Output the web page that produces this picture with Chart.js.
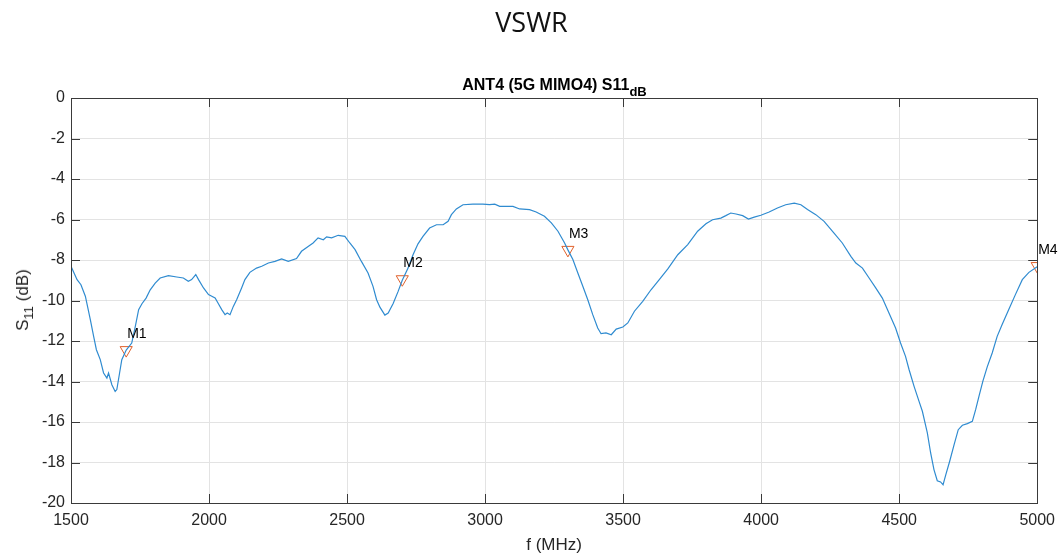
<!DOCTYPE html>
<html>
<head>
<meta charset="utf-8">
<script src="https://cdn.jsdelivr.net/npm/chart.js@4/dist/chart.umd.min.js"></script>
<style>
  html, body { margin: 0; padding: 0; background: #fff; }
  #wrap { position: relative; width: 1063px; height: 556px; font-family: "Liberation Sans", Arial, sans-serif; }
  canvas { position: absolute; left: 0; top: 0; }
  .ov { position: absolute; white-space: nowrap; color: #000; }
  #t1 { left: 0; width: 1063px; text-align: center; top: 3px; font-size: 27px; font-family: "Open Sans", sans-serif; color: #111; }
  #t2 { left: 71px; width: 967px; text-align: center; top: 76px; font-size: 16px; font-weight: bold; }
  #t2 sub { font-size: 13px; vertical-align: -6px; line-height: 0; }
  #yl { left: 23px; top: 300px; font-size: 17px; color: #262626; transform: translate(-50%, -50%) rotate(-90deg); transform-origin: center; }
  #yl sub { font-size: 13px; vertical-align: -5px; line-height: 0; }
</style>
</head>
<body>
<div id="wrap">
  <canvas id="c" width="1063" height="556"></canvas>
  <div class="ov" id="t1">VSWR</div>
  <div class="ov" id="t2">ANT4 (5G MIMO4) S11<sub>dB</sub></div>
  <div class="ov" id="yl">S<sub>11</sub> (dB)</div>
</div>
<script>
const freq = [1500,1522,1536,1552,1570,1582,1592,1606,1618,1630,1636,1648,1660,1666,1676,1684,1700,1720,1733,1745,1757,1772,1787,1805,1823,1853,1883,1907,1925,1937,1952,1962,1980,1998,2010,2022,2034,2046,2058,2066,2076,2088,2100,2118,2130,2148,2172,2191,2215,2239,2263,2287,2317,2335,2359,2377,2395,2414,2426,2444,2468,2492,2510,2529,2552,2576,2594,2607,2619,2637,2649,2667,2685,2700,2721,2739,2757,2775,2799,2824,2848,2866,2878,2896,2920,2956,2992,3016,3035,3053,3101,3125,3161,3185,3215,3240,3264,3288,3300,3318,3336,3354,3372,3390,3408,3420,3438,3457,3475,3499,3517,3541,3571,3601,3631,3662,3698,3734,3770,3800,3824,3854,3872,3890,3909,3933,3954,3975,3999,4029,4059,4089,4120,4144,4168,4198,4228,4264,4294,4325,4343,4367,4391,4415,4439,4463,4487,4505,4523,4536,4554,4572,4584,4602,4614,4626,4638,4650,4659,4669,4683,4699,4714,4729,4747,4765,4777,4789,4803,4819,4837,4855,4873,4897,4921,4946,4970,5000];
const s11 = [-8.31,-8.97,-9.22,-9.79,-10.95,-11.77,-12.43,-12.92,-13.58,-13.83,-13.58,-14.16,-14.49,-14.40,-13.58,-12.92,-12.45,-12.10,-11.28,-10.45,-10.16,-9.88,-9.47,-9.14,-8.89,-8.77,-8.84,-8.89,-9.05,-8.97,-8.72,-8.97,-9.38,-9.71,-9.79,-9.88,-10.16,-10.45,-10.70,-10.62,-10.70,-10.29,-9.96,-9.38,-8.97,-8.61,-8.40,-8.31,-8.15,-8.07,-7.95,-8.07,-7.93,-7.57,-7.33,-7.16,-6.91,-7.00,-6.86,-6.91,-6.78,-6.83,-7.16,-7.49,-8.07,-8.64,-9.30,-9.96,-10.33,-10.72,-10.62,-10.15,-9.55,-9.00,-8.40,-7.74,-7.20,-6.83,-6.42,-6.26,-6.26,-6.09,-5.76,-5.48,-5.27,-5.24,-5.24,-5.27,-5.24,-5.35,-5.35,-5.48,-5.51,-5.63,-5.84,-6.17,-6.58,-7.16,-7.50,-7.98,-8.64,-9.30,-9.96,-10.70,-11.36,-11.64,-11.60,-11.69,-11.41,-11.31,-11.11,-10.53,-10.04,-9.47,-8.97,-8.44,-7.74,-7.24,-6.58,-6.21,-6.01,-5.93,-5.81,-5.68,-5.73,-5.81,-5.98,-5.88,-5.79,-5.63,-5.43,-5.27,-5.19,-5.27,-5.51,-5.76,-6.09,-6.67,-7.16,-7.82,-8.15,-8.40,-8.89,-9.38,-9.88,-10.62,-11.36,-12.10,-12.76,-13.42,-14.24,-14.98,-15.47,-16.54,-17.53,-18.35,-18.90,-18.96,-19.10,-18.60,-17.94,-17.12,-16.38,-16.16,-16.08,-15.97,-15.39,-14.73,-13.99,-13.28,-12.59,-11.77,-11.19,-10.45,-9.71,-8.97,-8.61,-8.33];
const markerNames = ["M1","M2","M3","M4"];
const markerFreq = [1700,2700,3300,5000];
const markerVal = [-12.45,-8.95,-7.5,-8.3];
const xTicks = [1500,2000,2500,3000,3500,4000,4500,5000];
const yTicks = [0,-2,-4,-6,-8,-10,-12,-14,-16,-18,-20];

const axisColor = '#262626';
const FONT = '"Liberation Sans", Arial, sans-serif';
const boxPlugin = {
  id: 'box',
  afterDatasetsDraw(chart) {
    const {ctx, chartArea: a, scales: {x, y}} = chart;
    ctx.save();
    ctx.strokeStyle = '#3a3a3a';
    ctx.lineWidth = 1;
    ctx.strokeRect(Math.round(a.left)+0.5, Math.round(a.top)+0.5, Math.round(a.right-a.left), Math.round(a.bottom-a.top));
    ctx.beginPath();
    const L = 9;
    xTicks.forEach(v => {
      const px = Math.round(x.getPixelForValue(v)) + 0.5;
      ctx.moveTo(px, a.bottom); ctx.lineTo(px, a.bottom - L);
      ctx.moveTo(px, a.top); ctx.lineTo(px, a.top + L);
    });
    yTicks.forEach(v => {
      const py = Math.round(y.getPixelForValue(v)) + 0.5;
      ctx.moveTo(a.left, py); ctx.lineTo(a.left + L, py);
      ctx.moveTo(a.right, py); ctx.lineTo(a.right - L, py);
    });
    ctx.stroke();
    ctx.fillStyle = '#000';
    ctx.font = '14px ' + FONT;
    ctx.textAlign = 'left';
    ctx.textBaseline = 'alphabetic';
    markerNames.forEach((n, i) => {
      const px = x.getPixelForValue(markerFreq[i]);
      const py = y.getPixelForValue(markerVal[i]);
      ctx.fillText(n, px + 1, py - 12);
    });
    ctx.restore();
  }
};

new Chart(document.getElementById('c'), {
  type: 'scatter',
  data: {
    datasets: [
      {
        label: 'S11',
        data: freq.map((f, i) => ({x: f, y: s11[i]})),
        showLine: true,
        borderColor: '#2f8bd0',
        borderWidth: 1.2,
        pointRadius: 0,
        tension: 0
      },
      {
        label: 'Markers',
        data: markerFreq.map((f, i) => ({x: f, y: markerVal[i]})),
        showLine: false,
        pointStyle: 'triangle',
        rotation: 180,
        pointRadius: 7,
        borderColor: '#E0602A',
        backgroundColor: 'rgba(0,0,0,0)',
        borderWidth: 1
      }
    ]
  },
  options: {
    responsive: false,
    animation: false,
    layout: { padding: { top: 98, right: 25, left: 0, bottom: 0 } },
    plugins: { legend: { display: false }, tooltip: { enabled: false }, title: { display: false } },
    scales: {
      x: {
        type: 'linear', min: 1500, max: 5000,
        afterBuildTicks: s => { s.ticks = xTicks.map(v => ({value: v})); },
        afterFit: s => { s.height = 53; },
        grid: { color: '#e3e3e3', drawTicks: false },
        border: { display: false },
        ticks: { padding: 8, color: axisColor, font: { size: 16, family: FONT }, maxRotation: 0, callback: v => String(v) },
        title: { display: true, text: 'f (MHz)', color: axisColor, font: { size: 17, family: FONT }, padding: { top: 2, bottom: 0 } }
      },
      y: {
        type: 'linear', min: -20, max: 0,
        afterBuildTicks: s => { s.ticks = yTicks.map(v => ({value: v})); },
        afterFit: s => { s.width = 71; },
        grid: { color: '#e3e3e3', drawTicks: false },
        border: { display: false },
        ticks: { padding: 6, color: axisColor, font: { size: 16, family: FONT }, callback: v => String(v) }
      }
    }
  },
  plugins: [boxPlugin]
});
</script>
</body>
</html>
